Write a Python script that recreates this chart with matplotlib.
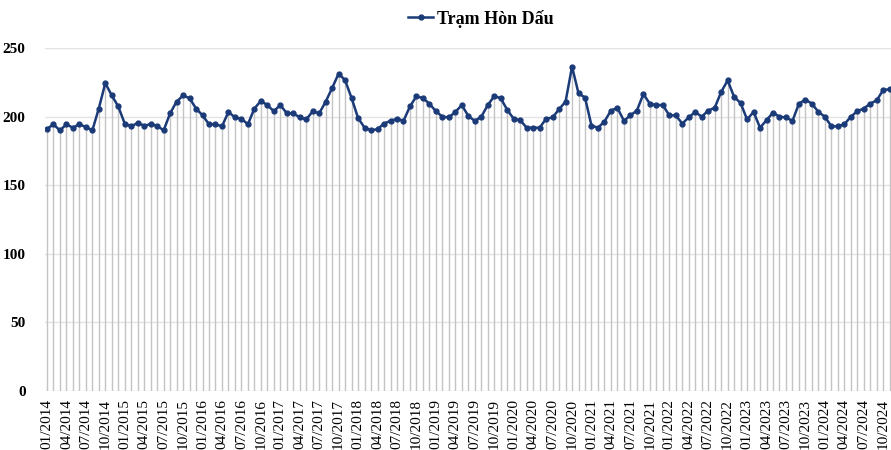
import matplotlib
matplotlib.use("Agg")
import matplotlib.pyplot as plt
import numpy as np

plt.rcParams["font.family"] = ["Liberation Serif", "DejaVu Serif"]

# monthly values, 01/2014 .. 11/2024
values = [
    191, 194.5, 190, 194.5, 192, 194.5, 192.5, 190, 206, 224.5, 215.5, 207.5,  # 2014
    195, 193, 195.5, 193.5, 194.5, 193.5, 190, 202.5, 211, 215.5, 213.5, 206,  # 2015
    201, 194.5, 194.5, 193, 203.5, 199.5, 198.5, 194.5, 206, 211.5, 208.5, 204,  # 2016
    208.5, 202.5, 202.5, 199.5, 198, 204, 202.5, 211, 221, 231.5, 226.5, 213.5,  # 2017
    199, 192, 190, 191, 195, 197, 198.5, 197, 207.5, 215, 213.5, 209.5,  # 2018
    204, 200, 199.5, 203.5, 208.5, 200.5, 197, 200, 208.5, 215, 213.5, 205,  # 2019
    198.5, 197.5, 192, 192, 192, 198.5, 199.5, 205.5, 211, 236.5, 217, 214,  # 2020
    193.5, 192, 196.5, 204.5, 206.5, 197, 201, 204.5, 216.5, 209.5, 208.5, 208.5,  # 2021
    201, 201, 195, 199.5, 203.5, 200, 204.5, 206.5, 218, 226.5, 214.5, 210,  # 2022
    198, 203.5, 192, 197.5, 203, 200, 199.5, 197, 209.5, 212.5, 209.5, 203.5,  # 2023
    200, 193, 193, 194.5, 200, 204, 206, 209.5, 212, 219.5, 220,  # 2024
]
labels = [f"{m:02d}/{y}" for y in range(2014, 2025) for m in range(1, 13)][: len(values)]
series_name = "Trạm Hòn Dấu"

x = np.arange(len(values))
navy = "#1b3a78"

fig = plt.figure(figsize=(8.91, 4.5), dpi=100)
ax = fig.add_axes([0.0505, 0.131, 0.9495, 0.762])

ax.vlines(x, 0, values, color="#c4c4c4", linewidth=1, zorder=1)
ax.plot(x, values, color=navy, linewidth=1.8, marker="o", markersize=3.5,
        label=series_name, zorder=3)

ax.set_ylim(0, 250)
ax.set_xlim(-0.3, len(values) - 0.8)
ax.set_yticks(np.arange(0, 251, 50))
ax.yaxis.grid(True, color="#e3e3e3", linewidth=1)
ax.set_axisbelow(True)

ax.set_xticks(x[::3])
ax.set_xticklabels(labels[::3], rotation=90, fontsize=11)
for t in ax.get_yticklabels():
    t.set_fontweight("bold")
    t.set_fontsize(11)
ax.tick_params(length=0, pad=6)
ax.tick_params(axis="y", pad=14)

for s in ax.spines.values():
    s.set_visible(False)

ax.legend(loc="upper center", bbox_to_anchor=(0.515, 1.16), frameon=False,
          prop={"weight": "bold", "size": 13}, handlelength=1.4, handletextpad=0.2)

fig.savefig("out.png", dpi=100)
